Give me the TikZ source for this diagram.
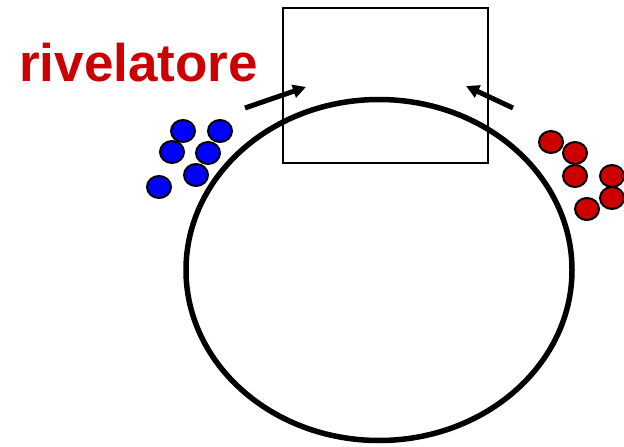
\documentclass[tikz,border=0pt]{standalone}
\usepackage{fontspec}
\usepackage{xcolor}
\usepackage{tikz}
\usetikzlibrary{arrows.meta,shapes.geometric}
\newfontfamily\labelfont{Liberation Sans}
\definecolor{beamred}{HTML}{CC0000}
\definecolor{beamblue}{HTML}{0000FF}

\begin{document}
\begin{tikzpicture}[x=1pt,y=-1pt,>={Triangle[length=13pt,width=13pt]},
  bunch/.style={ellipse,draw=black,line width=2pt,minimum width=24pt,minimum height=22pt,inner sep=0pt},
  every node/.style={inner sep=0pt}]
\useasboundingbox (0,0) rectangle (624,447);
% ring and detector
\node[ellipse,draw,line width=5.5pt,minimum width=386pt,minimum height=341pt] (ring) at (379,270) {};
\node[draw,line width=2.2pt,minimum width=205pt,minimum height=155pt] (det) at (385.5,85.5) {};
\node[anchor=base west,text=beamred,font=\labelfont\bfseries\fontsize{53}{60}\selectfont] (label) at (19,81) {rivelatore};
% bunches
\foreach \n/\px/\py in {1/183/131,2/220/131,3/172/152,4/208/153,5/196/175,6/159/187}{
  \node[bunch,fill=beamblue] (b\n) at (\px,\py) {};
}
\foreach \n/\px/\py in {1/551/142,2/575/153,3/575/176,4/612/176,5/612/198,6/587/209}{
  \node[bunch,fill=beamred] (r\n) at (\px,\py) {};
}
% beam directions
\coordinate (bluein) at (245,108);
\coordinate (bluetip) at (306,87);
\coordinate (redin) at (513,108);
\coordinate (redtip) at (466,86);
\draw[->,line width=5pt] (bluein) -- (bluetip);
\draw[->,line width=5pt] (redin) -- (redtip);
\end{tikzpicture}
\end{document}
